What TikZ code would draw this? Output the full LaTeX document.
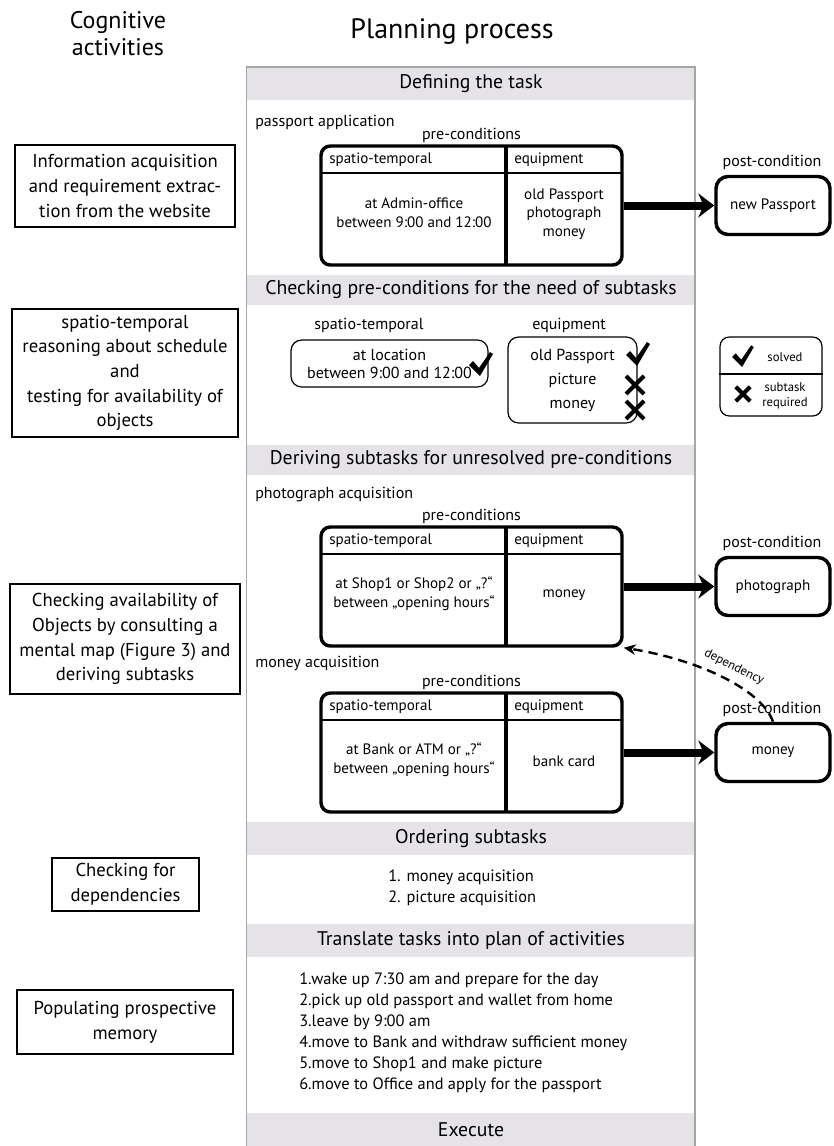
\documentclass[tikz,border=0pt]{standalone}
\usepackage{fontspec}
\setmainfont{PT Sans}
\usetikzlibrary{arrows.meta}
\definecolor{bandgray}{HTML}{E6E3E8}
\definecolor{railgray}{HTML}{A6A6A6}
\newcommand{\tickat}[2][1]{\fill[shift={#2},scale=#1] (-12,0) -- (-8,-4) -- (-2,3) -- (9,-13) -- (12,-11) -- (-1,11) -- cycle;}
\newcommand{\crossat}[2][1]{\draw[shift={#2},scale=#1,line width=3pt] (-9,-9) -- (9,9) (-9,9) -- (9,-9);}

\begin{document}
\begin{tikzpicture}[x=.75pt,y=-.75pt,
  every node/.style={inner sep=0pt,text=black},
  headline/.style={font=\fontsize{21}{25}\selectfont,align=center},
  bandtitle/.style={font=\fontsize{14.8}{17}\selectfont},
  activity/.style={draw,line width=.9pt,align=center,font=\fontsize{14}{18.5}\selectfont},
  tasklabel/.style={font=\fontsize{12}{15}\selectfont},
  celltext/.style={font=\fontsize{11.3}{14}\selectfont,align=center},
  listtext/.style={font=\fontsize{12.3}{15.8}\selectfont,align=left},
  prebox/.style={draw,line width=2.6pt,rounded corners=7pt,minimum width=225.75pt,minimum height=89.25pt},
  postbox/.style={draw,line width=2.6pt,rounded corners=9pt,minimum width=85.5pt,minimum height=43.5pt,font=\fontsize{11.3}{14}\selectfont},
  thinbox/.style={draw,line width=.9pt,rounded corners=8pt,align=center,font=\fontsize{12}{13.5}\selectfont},
  legendtext/.style={font=\fontsize{9.5}{11.5}\selectfont,align=center},
  bigarrow/.style={line width=6pt,-{Stealth[length=12pt,width=18pt,inset=4pt]}},
  depline/.style={line width=1.8pt,dash pattern=on 7pt off 4.5pt,-{Stealth[length=9pt,width=8pt]}}]
\useasboundingbox (0,0) rectangle (833,1146);
% headings over the two columns
\node[headline,font=\fontsize{18}{20.25}\selectfont] (cog) at (118,33.5) {Cognitive\\activities};
\node[headline] (plan) at (452,32) {Planning process};
% process column: grey band per planning step
\foreach \y/\h/\title [count=\n] in {67/33/Defining the task,275/30/Checking pre-conditions for the need of subtasks,445/30/Deriving subtasks for unresolved pre-conditions,822/33/Ordering subtasks,924/33/Translate tasks into plan of activities,1113/33/Execute}{
  \fill[bandgray] (247,\y) rectangle (695,{\y+\h});
  \node[bandtitle] (band\n) at (471,{\y+\h/2}) {\title};
}
\draw[railgray,line width=.8pt] (246.5,1146) -- (246.5,67) -- (695,67) -- (695,1146);
% cognitive activity beside each step
\node[activity,minimum width=165pt,minimum height=61.5pt] (act1) at (125,186) {Information acquisition\\and requirement extrac-\\tion from the website};
\node[activity,minimum width=169.5pt,minimum height=96pt] (act2) at (125,373) {spatio-temporal\\reasoning about schedule\\and\\testing for availability of\\objects};
\node[activity,minimum width=172.5pt,minimum height=82.5pt] (act3) at (125,639) {Checking availability of\\Objects by consulting a\\mental map (Figure 3) and\\deriving subtasks};
\node[activity,minimum width=110.25pt,minimum height=39.75pt] (act4) at (125.5,884.5) {Checking for\\dependencies};
\node[activity,minimum width=162pt,minimum height=48pt] (act5) at (125,1022) {Populating prospective\\memory};
% task, its pre-conditions table and post-condition
\foreach \ty/\tasky/\task/\where/\equip/\post [count=\i] in {146/122/passport application/{at Admin-office\\between 9:00 and 12:00}/{old Passport\\photograph\\money}/new Passport,527/495/photograph acquisition/{at Shop1 or Shop2 or „?“\\between „opening hours“}/money/photograph,693/663/money acquisition/{at Bank or ATM or „?“\\between „opening hours“}/bank card/money}{
  \node[tasklabel,anchor=west] (task\i) at (255,\tasky) {\task};
  \node[tasklabel] (cond\i) at (471.5,{\ty-11}) {pre-conditions};
  \node[prebox] (pre\i) at (471.5,{\ty+59.5}) {};
  \draw[line width=1.1pt] (321,{\ty+27}) -- (622,{\ty+27});
  \draw[line width=2.6pt] (506,\ty) -- (506,{\ty+119});
  \node[celltext,anchor=west] (st\i) at (329,{\ty+14}) {spatio-temporal};
  \node[celltext,anchor=west] (eq\i) at (514,{\ty+14}) {equipment};
  \node[celltext] (where\i) at (414,{\ty+67}) {\where};
  \node[celltext] (equip\i) at (564,{\ty+68}) {\equip};
  \node[postbox] (post\i) at (773,{\ty+59.5}) {\post};
  \node[tasklabel] (postlab\i) at (772,{\ty+16}) {post-condition};
  \draw[bigarrow] (pre\i) -- (post\i);
}
% check of the pre-conditions, with legend
\node[tasklabel] (chkst) at (369,325) {spatio-temporal};
\node[tasklabel] (chkeq) at (569,325) {equipment};
\node[thinbox,minimum width=147.75pt,minimum height=35.25pt] (chkwhere) at (389.5,363.5) {at location\\between 9:00 and 12:00};
\node[thinbox,minimum width=96.75pt,minimum height=64.5pt,font=\fontsize{12}{18}\selectfont] (chkequip) at (572.5,380) {old Passport\\picture\\money};
\tickat{(481,365)}
\tickat{(638,355)}
\crossat{(635,385)}
\crossat{(635,410)}
\node[draw,line width=.9pt,rounded corners=7pt,minimum width=76.5pt,minimum height=59.25pt] (legend) at (771,376.5) {};
\draw[line width=.9pt] (legend.west |- 0,374) -- (legend.east |- 0,374);
\tickat[.9]{(743,357)}
\crossat[.8]{(743,394)}
\node[legendtext] (solved) at (785,357) {solved};
\node[legendtext] (required) at (785,395.5) {subtask\\required};
% photograph needs the money first
\draw[depline] (post3.north) .. controls (762,690) and (700,660) .. (pre2.south east);
\node[rotate=-27,font=\fontsize{9.5}{11}\selectfont] (dep) at (734,667) {dependency};
% ordering and plan of activities
\node[listtext,anchor=west] (order) at (388,888) {1. money acquisition\\2. picture acquisition};
\node[listtext,anchor=west] (steps) at (299,1033) {1.wake up 7:30 am and prepare for the day\\2.pick up old passport and wallet from home\\3.leave by 9:00 am\\4.move to Bank and withdraw sufficient money\\5.move to Shop1 and make picture\\6.move to Office and apply for the passport};
\end{tikzpicture}
\end{document}
